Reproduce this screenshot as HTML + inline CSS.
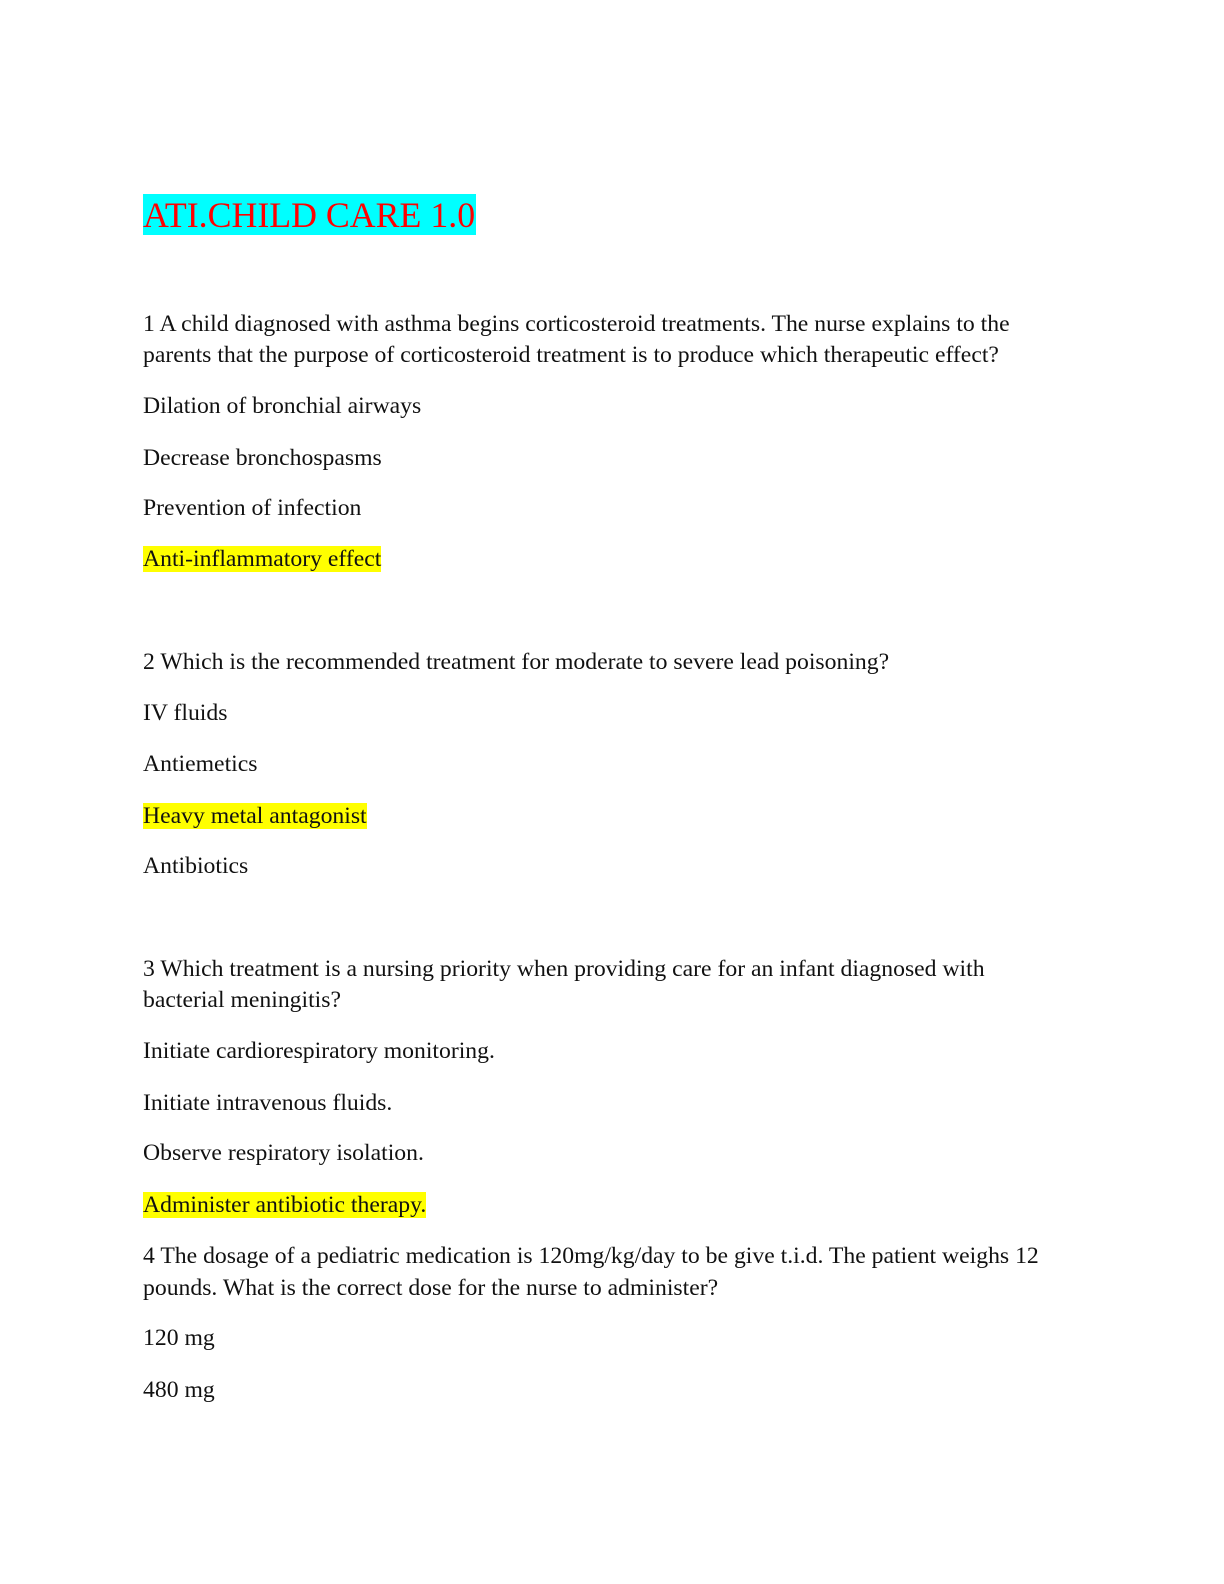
<!DOCTYPE html>
<html><head><meta charset="utf-8"><style>
body{margin:0;background:#fff;}
.p{position:relative;width:1224px;height:1584px;font-family:"Liberation Serif",serif;color:#111;}
.l{position:absolute;left:143px;font-size:23.7px;line-height:28px;white-space:nowrap;}
.y{background:#ffff00;}
.t{position:absolute;left:143px;top:194px;height:41px;line-height:42px;font-size:35.8px;color:#f00;background:#00ffff;padding-right:1px;white-space:nowrap;}
</style></head><body><div class="p">
<div class="t">ATI.CHILD CARE 1.0</div>
<div class="l" style="top:310px">1 A child diagnosed with asthma begins corticosteroid treatments. The nurse explains to the</div>
<div class="l" style="top:341px">parents that the purpose of corticosteroid treatment is to produce which therapeutic effect?</div>
<div class="l" style="top:392px">Dilation of bronchial airways</div>
<div class="l" style="top:444px">Decrease bronchospasms</div>
<div class="l" style="top:494px">Prevention of infection</div>
<div class="l" style="top:545px"><span class="y">Anti-inflammatory effect</span></div>
<div class="l" style="top:648px">2 Which is the recommended treatment for moderate to severe lead poisoning?</div>
<div class="l" style="top:699px">IV fluids</div>
<div class="l" style="top:750px">Antiemetics</div>
<div class="l" style="top:802px"><span class="y">Heavy metal antagonist</span></div>
<div class="l" style="top:852px">Antibiotics</div>
<div class="l" style="top:955px">3 Which treatment is a nursing priority when providing care for an infant diagnosed with</div>
<div class="l" style="top:986px">bacterial meningitis?</div>
<div class="l" style="top:1037px">Initiate cardiorespiratory monitoring.</div>
<div class="l" style="top:1089px">Initiate intravenous fluids.</div>
<div class="l" style="top:1139px">Observe respiratory isolation.</div>
<div class="l" style="top:1191px"><span class="y">Administer antibiotic therapy.</span></div>
<div class="l" style="top:1242px">4 The dosage of a pediatric medication is 120mg/kg/day to be give t.i.d. The patient weighs 12</div>
<div class="l" style="top:1274px">pounds. What is the correct dose for the nurse to administer?</div>
<div class="l" style="top:1324px">120 mg</div>
<div class="l" style="top:1376px">480 mg</div>
</div></body></html>
